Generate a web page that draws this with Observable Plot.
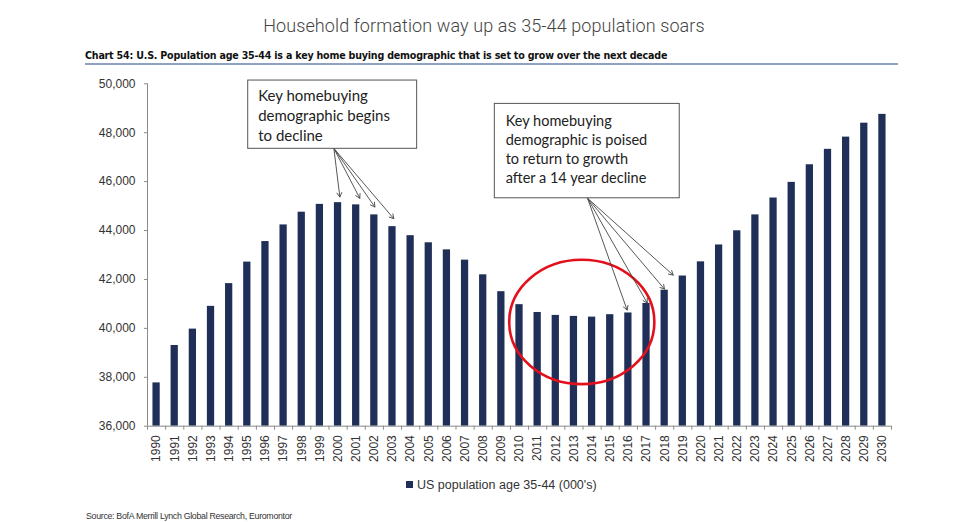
<!DOCTYPE html>
<html><head><meta charset="utf-8">
<script src="https://cdn.jsdelivr.net/npm/d3@7"></script>
<script src="https://cdn.jsdelivr.net/npm/@observablehq/plot@0.6"></script>
<style>
body{margin:0;background:#fff;width:974px;height:522px;overflow:hidden;position:relative;font-family:"Liberation Sans",Arial,sans-serif}
#title{position:absolute;left:0;top:15px;width:968px;text-align:center;font-family:Roboto,sans-serif;font-weight:300;font-size:18px;color:#444;white-space:nowrap;letter-spacing:0.1px}
#sub{position:absolute;left:85px;top:48px;width:813px;height:15px;border-bottom:2px solid #8fa2c4;font-family:"DejaVu Sans Condensed","Liberation Sans Narrow",sans-serif;font-weight:bold;font-size:10.6px;color:#111;line-height:15px;white-space:nowrap;letter-spacing:-0.2px}
#chart{position:absolute;left:0;top:70px}
#legend{position:absolute;left:406px;top:478px;font-size:12.5px;color:#333;white-space:nowrap}
#legend span.sw{display:inline-block;width:7px;height:7px;background:#1f2f57;margin-right:4px;vertical-align:1px}
#source{position:absolute;left:86px;top:511px;font-size:8.8px;color:#333;white-space:nowrap;letter-spacing:-0.3px}
</style></head>
<body>
<div id="title">Household formation way up as 35-44 population soars</div>
<div id="sub">Chart 54: U.S. Population age 35-44 is a key home buying demographic that is set to grow over the next decade</div>
<div id="chart"></div>
<div id="legend"><span class="sw"></span>US population age 35-44 (000's)</div>
<div id="source">Source: BofA Merrill Lynch Global Research, Euromontor</div>
<script>
// Data
const years = d3.range(1990, 2031);
const population = [
  37770, 39300, 39970, 40900, 41830, 42710, 43550, 44230, 44750, 45070,
  45140, 45050, 44640, 44160, 43790, 43500, 43210, 42790, 42190, 41500,
  40970, 40650, 40530, 40490, 40460, 40560, 40630, 41020, 41560, 42140,
  42720, 43410, 43990, 44640, 45330, 45970, 46690, 47320, 47820, 48390,
  48750
];
const yTicks = [36000, 38000, 40000, 42000, 44000, 46000, 48000, 50000];
const seriesName = "US population age 35-44 (000's)";

// Annotation content (data coordinates)
const note1Lines = "Key homebuying\ndemographic begins\nto decline";
const note2Lines = "Key homebuying\ndemographic is poised\nto return to growth\nafter a 14 year decline";
const note1Box = {x1: 1995.05, x2: 2004.36, y1: 47342, y2: 50133};
const note2Box = {x1: 2008.64, x2: 2018.83, y1: 45319, y2: 49178};
const note1Arrows = [
  {x1: 1999.77, y1: 47359, x2: 2000.1, y2: 45372},
  {x1: 1999.77, y1: 47359, x2: 2001.2, y2: 45319},
  {x1: 1999.77, y1: 47359, x2: 2002.03, y2: 44964},
  {x1: 1999.77, y1: 47359, x2: 2003.07, y2: 44486}
];
const note2Arrows = [
  {x1: 2013.75, y1: 45320, x2: 2015.93, y2: 40749},
  {x1: 2013.75, y1: 45320, x2: 2017.04, y2: 41035},
  {x1: 2013.75, y1: 45320, x2: 2017.99, y2: 41606},
  {x1: 2013.75, y1: 45320, x2: 2018.47, y2: 42177}
];
const circle = {cx: 2013.46, cy: 40243, rx: 4.0, ry: 2542};

const data = years.map((y, i) => ({year: y, value: population[i]}));
const bounds = d3.range(1989.5, 2031, 1);

const ellipseMark = (index, scales) => {
  const g = document.createElementNS("http://www.w3.org/2000/svg", "ellipse");
  const cx = scales.x(circle.cx), cy = scales.y(circle.cy);
  const rx = scales.x(circle.cx + circle.rx) - cx;
  const ry = cy - scales.y(circle.cy + circle.ry);
  g.setAttribute("cx", cx); g.setAttribute("cy", cy);
  g.setAttribute("rx", rx); g.setAttribute("ry", ry);
  g.setAttribute("fill", "none"); g.setAttribute("stroke", "#e3101b");
  g.setAttribute("stroke-width", 2.6);
  return g;
};

const chart = Plot.plot({
  width: 974,
  height: 405,
  marginLeft: 147,
  marginRight: 83,
  marginTop: 13.3,
  marginBottom: 49.3,
  style: {fontFamily: "'Liberation Sans', Arial, sans-serif", color: "#333", overflow: "visible"},
  x: {type: "linear", domain: [1989.5, 2030.5]},
  y: {domain: [36000, 50000]},
  marks: [
    Plot.rectY(data, {x1: d => d.year - 0.2, x2: d => d.year + 0.2, y1: 36000, y2: "value", fill: "#1f2f57"}),
    Plot.ruleY([36000], {stroke: "#8a8a8a", strokeWidth: 1}),
    Plot.ruleX([1989.5], {y1: 36000, y2: 50000, stroke: "#8a8a8a", strokeWidth: 1}),
    Plot.axisY(yTicks, {tickSize: 3, tickPadding: 9, tickFormat: d3.format(","), fontSize: 12, stroke: "#8a8a8a", label: null}),
    Plot.axisX(bounds, {tickSize: 4, tickFormat: () => "", stroke: "#8a8a8a", label: null}),
    Plot.axisX(years, {tickSize: 0, tickPadding: 9, tickRotate: -90, tickFormat: d => String(d), fontSize: 12, label: null}),
    ellipseMark,
    Plot.arrow(note1Arrows, {x1: "x1", y1: "y1", x2: "x2", y2: "y2", stroke: "#444", strokeWidth: 0.9, headLength: 8}),
    Plot.arrow(note2Arrows, {x1: "x1", y1: "y1", x2: "x2", y2: "y2", stroke: "#444", strokeWidth: 0.9, headLength: 8}),
    Plot.rect([note1Box], {x1: "x1", x2: "x2", y1: "y1", y2: "y2", fill: "white", stroke: "#555", strokeWidth: 1}),
    Plot.rect([note2Box], {x1: "x1", x2: "x2", y1: "y1", y2: "y2", fill: "white", stroke: "#555", strokeWidth: 1}),
    Plot.text([note1Lines], {x: 1995.6, y: 49860, text: d => d, textAnchor: "start", lineAnchor: "top", fontSize: 15, lineHeight: 1.33, fill: "#222", fontFamily: "Lato, sans-serif"}),
    Plot.text([note2Lines], {x: 2009.24, y: 48840, text: d => d, textAnchor: "start", lineAnchor: "top", fontSize: 14.5, lineHeight: 1.32, fill: "#222", fontFamily: "Lato, sans-serif"})
  ]
});
document.getElementById("chart").appendChild(chart);
</script>
</body></html>
